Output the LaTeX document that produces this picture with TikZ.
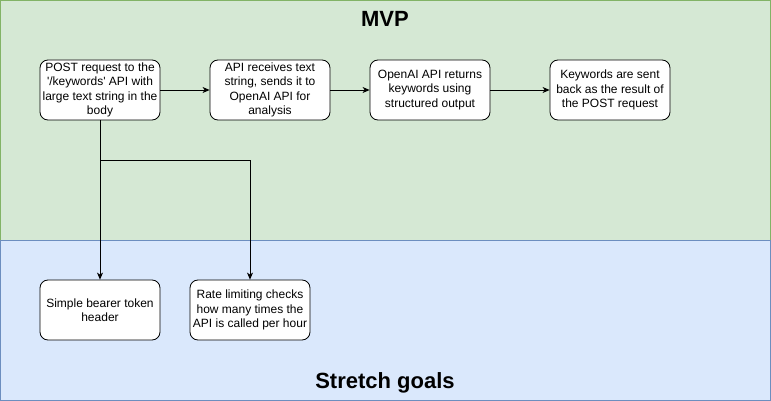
\documentclass[tikz,border=0pt]{standalone}
\usepackage{fontspec}
\setmainfont{Liberation Sans}[Ligatures=TeXOff]
\usetikzlibrary{arrows.meta}
\definecolor{gfill}{HTML}{D5E8D4}
\definecolor{gline}{HTML}{82B366}
\definecolor{bfill}{HTML}{DAE8FC}
\definecolor{bline}{HTML}{6C8EBF}
\tikzset{
  x=1pt,y=-1pt,
  box/.style={draw=black,fill=white,rounded corners=8pt,line width=0.8pt,minimum width=120pt,minimum height=60pt,align=center,inner sep=1pt,font=\fontsize{12}{14.3}\selectfont},
  arr/.style={draw=black,line width=0.8pt,-{Stealth[length=7pt,width=6pt,inset=2pt]}},
  titletext/.style={font=\fontsize{22}{25}\selectfont\bfseries}
}
\begin{document}
\begin{tikzpicture}
\useasboundingbox (0,0) rectangle (771,401);
\path[fill=gfill,draw=gline,line width=0.8pt] (0.5,0.5) rectangle (770.5,240.5);
\path[fill=bfill,draw=bline,line width=0.8pt] (0.5,240.5) rectangle (770.5,400.5);
\node[titletext] (t1) at (385,19) {MVP};
\node[titletext] (t2) at (385,383) {Stretch goals};
\node[box] (b1) at (100,90) {POST request to the\\'/keywords' API with\\large text string in the\\body};
\node[box] (b2) at (270,90) {API receives text\\string, sends it to\\OpenAI API for\\analysis};
\node[box] (b3) at (430,90) {OpenAI API returns\\keywords using\\structured output};
\node[box] (b4) at (610,90) {Keywords are sent\\back as the result of\\the POST request};
\node[box] (b5) at (100,310) {Simple bearer token\\header};
\node[box] (b6) at (250,310) {Rate limiting checks\\how many times the\\API is called per hour};
\coordinate (br) at (100,160);
\draw[arr] (b1) -- (b2);
\draw[arr] (b2) -- (b3);
\draw[arr] (b3) -- (b4);
\draw[arr] (b1.south) -- (b5.north);
\draw[arr] (br) -| (b6.north);
\end{tikzpicture}
\end{document}
